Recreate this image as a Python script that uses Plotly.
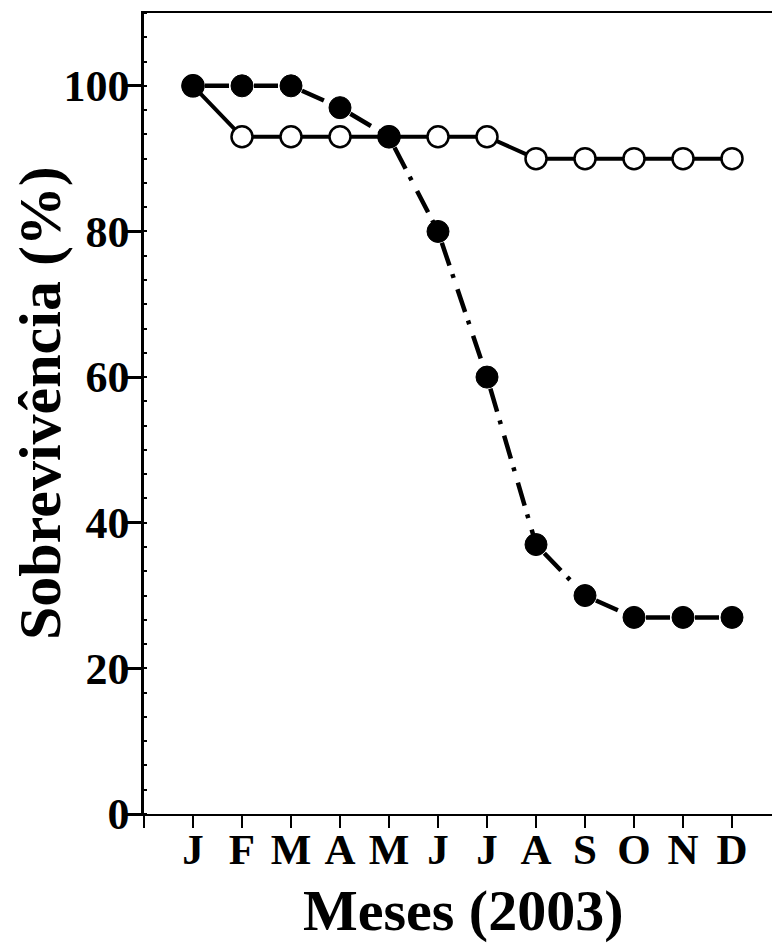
import plotly.graph_objects as go

months = ["J", "F", "M", "A", "M", "J", "J", "A", "S", "O", "N", "D"]
month_pos = list(range(1, 13))
survival_closed = [100, 100, 100, 97, 93, 80, 60, 37, 30, 27, 27, 27]
survival_open = [100, 93, 93, 93, 93, 93, 93, 90, 90, 90, 90, 90]
y_ticks = [0, 20, 40, 60, 80, 100]

FONT = "Liberation Serif"

# dash-dot pattern restarted at every point, so short links show one dash
SEG_DASH = "0px,12px,24px,9px,4px,0px"

fig = go.Figure()

fig.add_trace(go.Scatter(
    x=month_pos, y=survival_open, mode="lines+markers",
    line=dict(color="black", width=4),
    marker=dict(symbol="circle", size=21, color="white",
                line=dict(color="black", width=2.5)),
    showlegend=False,
))

for i in range(len(month_pos) - 1):
    fig.add_trace(go.Scatter(
        x=month_pos[i:i + 2], y=survival_closed[i:i + 2], mode="lines",
        line=dict(color="black", width=4.5, dash=SEG_DASH),
        hoverinfo="skip", showlegend=False,
    ))

fig.add_trace(go.Scatter(
    x=month_pos, y=survival_closed, mode="markers",
    marker=dict(symbol="circle", size=22, color="black",
                line=dict(color="black", width=1)),
    showlegend=False,
))

fig.update_layout(
    width=772, height=946,
    margin=dict(l=144, r=0, t=13, b=132),
    paper_bgcolor="white", plot_bgcolor="white",
    font=dict(family=FONT, color="black"),
)

fig.update_xaxes(
    range=[0, 12.816],
    tickmode="array",
    tickvals=[0] + month_pos,
    ticktext=[""] + months,
    ticks="outside", ticklen=12, tickwidth=2, tickcolor="black",
    tickfont=dict(family=FONT, size=43, color="black", weight="bold"),
    ticklabelstandoff=-16,
    showline=True, linecolor="black", linewidth=2, mirror=True,
    showgrid=False, zeroline=False,
)

fig.update_yaxes(
    range=[0, 110],
    tickmode="array", tickvals=y_ticks,
    ticks="outside", ticklen=14, tickwidth=2.5, tickcolor="black",
    tickfont=dict(family=FONT, size=44, color="black", weight="bold"),
    ticklabelstandoff=-11,
    minor=dict(dtick=20 / 6, tick0=0, ticks="inside", ticklen=3,
               tickwidth=1.5, tickcolor="black", showgrid=False),
    showline=True, linecolor="black", linewidth=2.5,
    showgrid=False, zeroline=False,
)

fig.add_annotation(
    text="<b>Sobrevivência (%)</b>", textangle=-90,
    xref="paper", yref="paper",
    x=(40 - 144) / 628, y=(814 - 403) / 801,
    xanchor="center", yanchor="middle", showarrow=False,
    font=dict(family=FONT, size=60, color="black"),
)

fig.add_annotation(
    text="<b>Meses (2003)</b>",
    xref="paper", yref="paper",
    x=(463 - 144) / 628, y=(814 - 910) / 801,
    xanchor="center", yanchor="middle", showarrow=False,
    font=dict(family=FONT, size=58, color="black"),
)

fig.write_html("out.html")
